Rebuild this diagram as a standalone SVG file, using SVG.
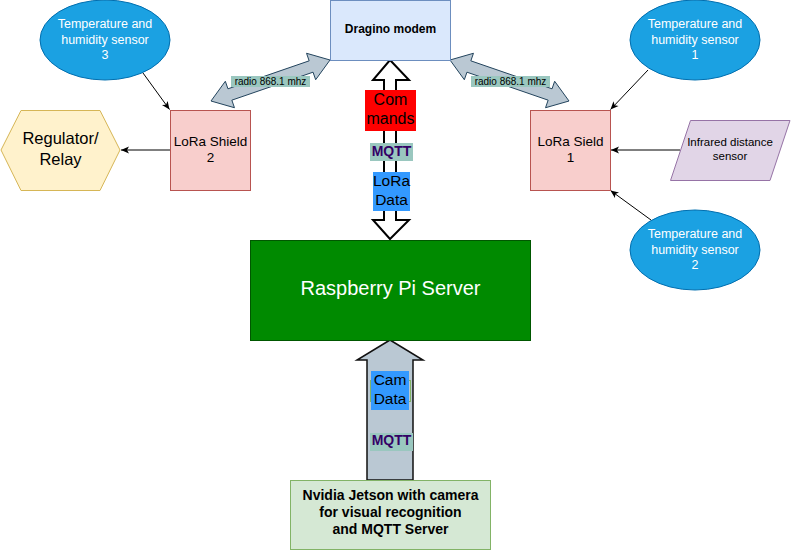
<svg xmlns="http://www.w3.org/2000/svg" width="791" height="551" viewBox="0 0 791 551">
<style>
text{font-family:"Liberation Sans",Arial,sans-serif;text-anchor:middle}
.sensor{fill:#1ba1e2;stroke:#006eaf;stroke-width:1}
.sensor text{fill:#ffffff}
.st{fill:#ffffff;font-size:12.5px}
.lora{fill:#f8cecc;stroke:#b85450;stroke-width:1}
.conn{stroke:#000;stroke-width:1;fill:none}
.radio{fill:#bac8d3;stroke:#23445d;stroke-width:1}
.rlab{fill:#9ac7bf}
.mq{fill:#330066;font-weight:bold;font-size:14px}
</style>
<defs>
<marker id="ah" viewBox="-9 -5 10 10" refX="0" refY="0" markerWidth="10" markerHeight="10" markerUnits="userSpaceOnUse" orient="auto">
<path d="M0,0 L-8,-3.5 L-6,0 L-8,3.5 Z" fill="#000"/>
</marker>
</defs>
<rect width="791" height="551" fill="#ffffff"/>

<g id="connectors">
<line class="conn" x1="143" y1="73" x2="169.5" y2="109.5" marker-end="url(#ah)"/>
<line class="conn" x1="648" y1="70" x2="610.5" y2="109.5" marker-end="url(#ah)"/>
<line class="conn" x1="651" y1="220" x2="610.5" y2="190.5" marker-end="url(#ah)"/>
<line class="conn" x1="680" y1="150" x2="611" y2="150" marker-end="url(#ah)"/>
<line class="conn" x1="170" y1="150" x2="121" y2="150" marker-end="url(#ah)"/>
<polygon class="radio" points="330,60 315.66,79.74 313.05,72.18 231.85,100.16 234.46,107.72 211,101 225.34,81.26 227.95,88.82 309.15,60.84 306.54,53.28"/>
<polygon class="radio" points="450,60 464.34,79.74 466.95,72.18 548.15,100.16 545.54,107.72 569,101 554.66,81.26 552.05,88.82 470.85,60.84 473.46,53.28"/>
<rect class="rlab" x="231" y="76" width="79" height="11"/>
<text x="270.5" y="84.5" font-size="10px" fill="#000">radio 868.1 mhz</text>
<rect class="rlab" x="471" y="76" width="79" height="11"/>
<text x="510.5" y="84.5" font-size="10px" fill="#000">radio 868.1 mhz</text>
<polygon points="390,60 409,80 396,80 396,220 409,220 390,239 373,220 384,220 384,80 373,80" fill="#ffffff" stroke="#000" stroke-width="2" stroke-linejoin="miter"/>
<rect x="365" y="90" width="51" height="41" fill="#ff0000"/>
<text x="390.5" y="105" font-size="16px" fill="#000">Com</text>
<text x="390.5" y="124" font-size="16px" fill="#000">mands</text>
<rect class="rlab" x="370" y="143" width="43" height="18"/>
<text class="mq" x="391.5" y="156">MQTT</text>
<rect x="373" y="172" width="37" height="39" fill="#3399ff"/>
<text x="391.5" y="186" font-size="15.5px" fill="#000">LoRa</text>
<text x="391.5" y="205" font-size="15.5px" fill="#000">Data</text>
<polygon points="390,340 423,360 413,360 413,480 367,480 367,360 357,360" fill="#bac8d3" stroke="#111" stroke-width="1.5"/>
<rect x="370.5" y="380.5" width="40" height="21" fill="none" stroke="#82b366" stroke-width="1"/>
<rect x="371" y="371" width="38" height="39" fill="#3399ff"/>
<text x="390" y="385" font-size="15.5px" fill="#000">Cam</text>
<text x="390" y="404" font-size="15.5px" fill="#000">Data</text>
<rect class="rlab" x="370" y="433" width="43" height="18"/>
<text class="mq" x="391.5" y="444.5">MQTT</text>
</g>

<g id="dragino">
<rect x="330.5" y="0.5" width="120" height="60" fill="#dae8fc" stroke="#6c8ebf"/>
<text x="390.5" y="33" font-size="12px" font-weight="bold" fill="#000">Dragino modem</text>
</g>

<g id="sensor3" class="sensor">
<ellipse cx="105" cy="40" rx="65" ry="40"/>
<text class="st" x="105" y="28" stroke="none">Temperature and</text>
<text class="st" x="105" y="44" stroke="none">humidity sensor</text>
<text class="st" x="105" y="59" stroke="none">3</text>
</g>

<g id="sensor1" class="sensor">
<ellipse cx="695" cy="40" rx="65" ry="40"/>
<text class="st" x="695" y="28" stroke="none">Temperature and</text>
<text class="st" x="695" y="44" stroke="none">humidity sensor</text>
<text class="st" x="695" y="59" stroke="none">1</text>
</g>

<g id="sensor2" class="sensor">
<ellipse cx="695" cy="250" rx="65" ry="40"/>
<text class="st" x="695" y="238" stroke="none">Temperature and</text>
<text class="st" x="695" y="254" stroke="none">humidity sensor</text>
<text class="st" x="695" y="269" stroke="none">2</text>
</g>

<g id="lora2">
<rect class="lora" x="170.5" y="110.5" width="80" height="80"/>
<text x="210.5" y="146" font-size="13.5px" fill="#000">LoRa Shield</text>
<text x="210.5" y="162" font-size="13.5px" fill="#000">2</text>
</g>

<g id="lora1">
<rect class="lora" x="530.5" y="110.5" width="80" height="80"/>
<text x="570.5" y="146" font-size="13.5px" fill="#000">LoRa Sield</text>
<text x="570.5" y="162" font-size="13.5px" fill="#000">1</text>
</g>

<g id="regulator">
<polygon points="1,150 21,110.5 100,110.5 120,150 100,190.5 21,190.5" fill="#fff2cc" stroke="#d6b656"/>
<text x="60.5" y="144" font-size="16.5px" fill="#000">Regulator/</text>
<text x="60.5" y="165" font-size="16.5px" fill="#000">Relay</text>
</g>

<g id="infrared">
<polygon points="670.5,180.5 690.5,120.5 790,120.5 770,180.5" fill="#e1d5e7" stroke="#9673a6"/>
<text x="730" y="146" font-size="11.5px" fill="#000">Infrared distance</text>
<text x="730" y="160" font-size="11.5px" fill="#000">sensor</text>
</g>

<g id="raspberry">
<rect x="250.5" y="240.5" width="280" height="100" fill="#008a00" stroke="#005700"/>
<text x="390.5" y="295" font-size="20px" fill="#ffffff">Raspberry Pi Server</text>
</g>

<g id="jetson">
<rect x="290.5" y="480.5" width="200" height="69" fill="#d5e8d4" stroke="#82b366"/>
<text x="390.5" y="500" font-size="14px" font-weight="bold" fill="#000">Nvidia Jetson with camera</text>
<text x="390.5" y="517" font-size="14px" font-weight="bold" fill="#000">for visual recognition</text>
<text x="390.5" y="534" font-size="14px" font-weight="bold" fill="#000">and MQTT Server</text>
</g>
</svg>
